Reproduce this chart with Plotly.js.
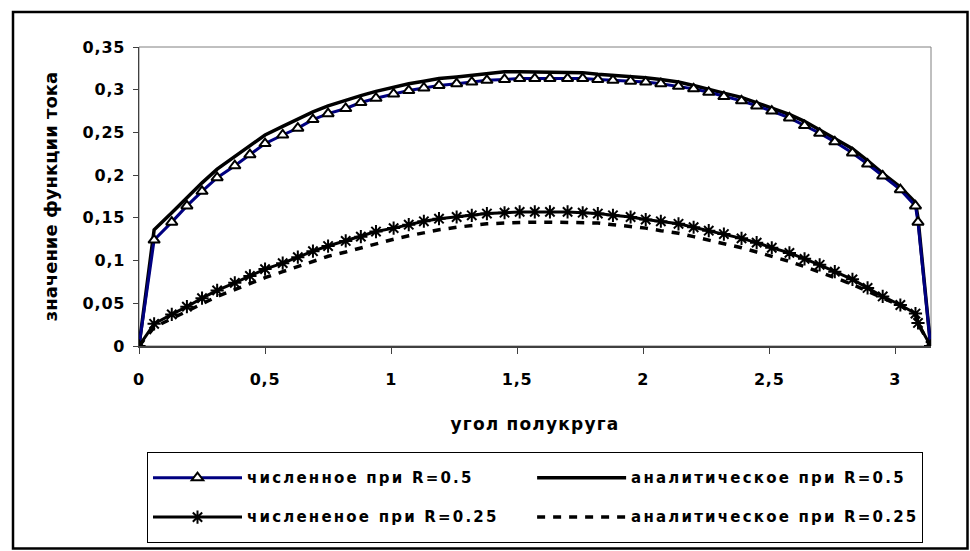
<!DOCTYPE html>
<html>
<head>
<meta charset="utf-8">
<script src="https://cdn.plot.ly/plotly-3.0.1.min.js"></script>
<style>
html,body{margin:0;padding:0;background:#fff;}
#chart{width:970px;height:551px;}
.xtick text, .ytick text { letter-spacing: 0.8px; }
.xtitle { letter-spacing: 1.2px; }
</style>
</head>
<body>
<div id="chart"></div>
<script>
// angle of the semicircle (x values)
const theta = [0, 0.06, 0.13, 0.19, 0.25, 0.31, 0.38, 0.44, 0.50, 0.57, 0.63, 0.69, 0.75, 0.82, 0.88, 0.94, 1.01, 1.07, 1.13, 1.19, 1.26, 1.32, 1.38, 1.45, 1.51, 1.57, 1.63, 1.70, 1.76, 1.82, 1.88, 1.95, 2.01, 2.07, 2.14, 2.20, 2.26, 2.32, 2.39, 2.45, 2.51, 2.58, 2.64, 2.70, 2.76, 2.83, 2.89, 2.95, 3.02, 3.08, 3.09, 3.14];

const numR05 = [0, 0.124, 0.145, 0.164, 0.181, 0.197, 0.211, 0.224, 0.237, 0.247, 0.255, 0.265, 0.272, 0.278, 0.285, 0.290, 0.295, 0.299, 0.302, 0.305, 0.307, 0.309, 0.311, 0.312, 0.313, 0.313, 0.313, 0.313, 0.313, 0.312, 0.311, 0.310, 0.309, 0.307, 0.304, 0.301, 0.297, 0.292, 0.287, 0.281, 0.275, 0.267, 0.258, 0.249, 0.239, 0.226, 0.213, 0.199, 0.183, 0.164, 0.145, 0];

const anR05 = [0, 0.136, 0.156, 0.174, 0.191, 0.207, 0.222, 0.235, 0.247, 0.257, 0.266, 0.274, 0.281, 0.288, 0.293, 0.298, 0.303, 0.307, 0.310, 0.313, 0.315, 0.317, 0.318, 0.321, 0.321, 0.321, 0.321, 0.321, 0.320, 0.318, 0.317, 0.316, 0.314, 0.312, 0.309, 0.305, 0.301, 0.296, 0.291, 0.285, 0.279, 0.271, 0.263, 0.253, 0.243, 0.231, 0.217, 0.202, 0.186, 0.168, 0.150, 0];

const numR025 = [0, 0.026, 0.037, 0.046, 0.056, 0.065, 0.074, 0.082, 0.090, 0.097, 0.104, 0.111, 0.117, 0.123, 0.128, 0.134, 0.138, 0.142, 0.146, 0.149, 0.151, 0.153, 0.155, 0.156, 0.157, 0.157, 0.157, 0.157, 0.156, 0.155, 0.153, 0.151, 0.148, 0.146, 0.143, 0.139, 0.135, 0.131, 0.126, 0.121, 0.115, 0.109, 0.102, 0.095, 0.087, 0.078, 0.068, 0.058, 0.048, 0.038, 0.027, 0];

const anR025 = [0, 0.022, 0.032, 0.041, 0.050, 0.058, 0.066, 0.073, 0.080, 0.087, 0.093, 0.099, 0.105, 0.110, 0.115, 0.120, 0.125, 0.129, 0.133, 0.136, 0.139, 0.141, 0.143, 0.144, 0.145, 0.145, 0.145, 0.145, 0.145, 0.144, 0.142, 0.140, 0.138, 0.135, 0.132, 0.128, 0.124, 0.120, 0.115, 0.110, 0.105, 0.099, 0.093, 0.087, 0.080, 0.072, 0.064, 0.056, 0.047, 0.037, 0.026, 0];

const seriesNames = ['численное при R=0.5', 'аналитическое при R=0.5', 'числененое при R=0.25', 'аналитическое при R=0.25'];
const xTitle = 'угол полукруга';
const yTitle = 'значение функции тока';

const FONT = 'DejaVu Sans, Verdana, sans-serif';
const lg = s => '<span style="font-size:15px;letter-spacing:2.2px;baseline-shift:6px">' + s + '</span>';

const traces = [
  {x: theta, y: anR05, name: lg(seriesNames[1]), legendrank: 2, mode: 'lines',
   line: {color: '#000000', width: 3.5}},
  {x: theta, y: numR05, name: lg(seriesNames[0]), legendrank: 1, mode: 'lines+markers',
   line: {color: '#000080', width: 3},
   marker: {symbol: 'triangle-up', size: 10, color: '#ffffff', line: {color: '#000000', width: 2}}},
  {x: theta, y: anR025, name: lg(seriesNames[3]), legendrank: 4, mode: 'lines',
   line: {color: '#000000', width: 3.5, dash: '8px,8px'}},
  {x: theta, y: numR025, name: lg(seriesNames[2]), legendrank: 3, mode: 'lines+markers',
   line: {color: '#000000', width: 3},
   marker: {symbol: 'asterisk-open', size: 11, color: '#000000', line: {color: '#000000', width: 2}}}
];

const L = 139, R = 931, T = 47, B = 346, W = 970, H = 551;
const px = v => (v - L) / (R - L);
const py = v => (B - v) / (B - T);

const layout = {
  width: W, height: H,
  margin: {l: L, r: W - R, t: T, b: H - B, pad: 0, autoexpand: false},
  paper_bgcolor: '#ffffff', plot_bgcolor: '#ffffff',
  separators: ', ',
  font: {family: FONT, color: '#000000'},
  showlegend: true,
  xaxis: {
    range: [0, Math.PI], dtick: 0.5, tick0: 0, showgrid: false, zeroline: false,
    showline: true, linecolor: '#404040', linewidth: 1.5,
    ticks: 'outside', ticklen: 6, tickwidth: 1, tickcolor: '#404040', ticklabelstandoff: 12,
    tickfont: {family: FONT, size: 16, color: '#000', weight: 'bold'},
    title: {text: xTitle, font: {family: FONT, size: 17, color: '#000', weight: 'bold'}, standoff: 30},
    automargin: false, fixedrange: true
  },
  yaxis: {
    range: [0, 0.35], dtick: 0.05, tick0: 0, showgrid: false, zeroline: false,
    showline: true, linecolor: '#404040', linewidth: 1.5,
    ticks: 'outside', ticklen: 5, tickwidth: 1, tickcolor: '#404040', ticklabelstandoff: 4,
    tickfont: {family: FONT, size: 16, color: '#000', weight: 'bold'},
    title: {text: yTitle, font: {family: FONT, size: 18, color: '#000', weight: 'bold'}, standoff: 20},
    automargin: false, fixedrange: true
  },
  legend: {
    orientation: 'h', x: px(147), y: py(452), xanchor: 'left', yanchor: 'top',
    bordercolor: '#000000', borderwidth: 1, bgcolor: '#ffffff',
    font: {family: FONT, size: 28, color: '#000', weight: 'bold'},
    entrywidth: 0.485, entrywidthmode: 'fraction', itemwidth: 89,
    traceorder: 'normal'
  },
  shapes: [
    {type: 'rect', xref: 'paper', yref: 'paper', x0: 0, x1: 1, y0: 0, y1: 1,
     line: {color: '#808080', width: 1}, layer: 'below'},
    {type: 'rect', xref: 'paper', yref: 'paper', x0: px(13), x1: px(967.5), y0: py(548.5), y1: py(12),
     line: {color: '#000000', width: 2.5}, layer: 'below'}
  ]
};

Plotly.newPlot('chart', traces, layout, {displayModeBar: false, staticPlot: true});
</script>
</body>
</html>
